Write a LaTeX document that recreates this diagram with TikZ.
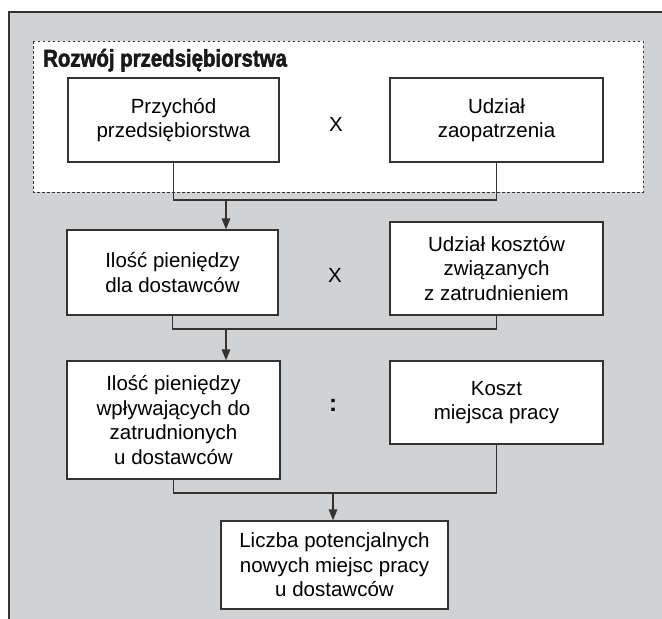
\documentclass[tikz,border=0pt]{standalone}
\usepackage{fontspec}
\usepackage{graphicx}
\setmainfont{Liberation Sans}
\newfontfamily\titlefont[FakeBold=2.2]{Liberation Sans Bold}
\usetikzlibrary{arrows.meta}
\definecolor{bggray}{HTML}{D1D2D4}
\definecolor{linec}{HTML}{333333}
\tikzset{
  box/.style={draw=linec, line width=1.2pt, fill=white, align=center, inner sep=0pt,
    font=\fontsize{20.5}{24.5}\selectfont},
  conn/.style={draw=linec, line width=1.2pt},
  arr/.style={conn, -{Triangle[length=11pt,width=8.5pt]}},
  op/.style={font=\fontsize{20.5}{24}\selectfont, inner sep=0pt}
}
\begin{document}
\begin{tikzpicture}[x=1pt,y=-1pt]
\useasboundingbox (0,0) rectangle (662,619);
\fill[bggray] (9,12) rectangle (662,619);
\draw[linec, line width=1.5pt] (9,619) -- (9,12) -- (662,12);
\draw[linec, line width=1pt, fill=white, dash pattern=on 2.5pt off 2.5pt] (33,41) rectangle (643,192);
\node[anchor=base west, inner sep=0pt, font=\fontsize{24}{26}\titlefont, text=black!90] (title) at (43,66.5)
  {\scalebox{0.85}[1]{Rozwój przedsiębiorstwa}};

\node[box, minimum width=211pt, minimum height=84pt] (b1) at (173.5,120) {Przychód\\przedsiębiorstwa};
\node[box, minimum width=213pt, minimum height=84pt] (b2) at (496.5,120) {Udział\\zaopatrzenia};
\node[op] (x1) at (336,124) {X};

\node[box, minimum width=211pt, minimum height=85pt] (b3) at (172.5,272.5) {Ilość pieniędzy\\dla dostawców};
\node[box, minimum width=213pt, minimum height=93pt] (b4) at (496.5,268.5) {Udział kosztów\\związanych\\z zatrudnieniem};
\node[op] (x2) at (335,275) {X};

\node[box, minimum width=213pt, minimum height=118pt] (b5) at (173.5,420) {Ilość pieniędzy\\wpływających do\\zatrudnionych\\u dostawców};
\node[box, minimum width=213pt, minimum height=83pt] (b6) at (496.5,402.5) {Koszt\\miejsca pracy};
\node[op, font=\fontsize{24}{26}\selectfont\bfseries] (c1) at (333,405) {:};

\node[box, minimum width=227pt, minimum height=88pt] (b7) at (334.5,565) {Liczba potencjalnych\\nowych miejsc pracy\\u dostawców};

\coordinate (j1) at (226,200);
\coordinate (j2) at (226,329);
\coordinate (j3) at (333,493);

\draw[conn] (b1.south) -- (b1.south |- j1) -- (b2.south |- j1) -- (b2.south);
\draw[arr] (j1) -- (j1 |- b3.north);
\draw[conn] (b3.south) -- (b3.south |- j2) -- (b4.south |- j2) -- (b4.south);
\draw[arr] (j2) -- (j2 |- b5.north);
\draw[conn] (b5.south) -- (b5.south |- j3) -- (b6.south |- j3) -- (b6.south);
\draw[arr] (j3) -- (j3 |- b7.north);
\end{tikzpicture}
\end{document}
